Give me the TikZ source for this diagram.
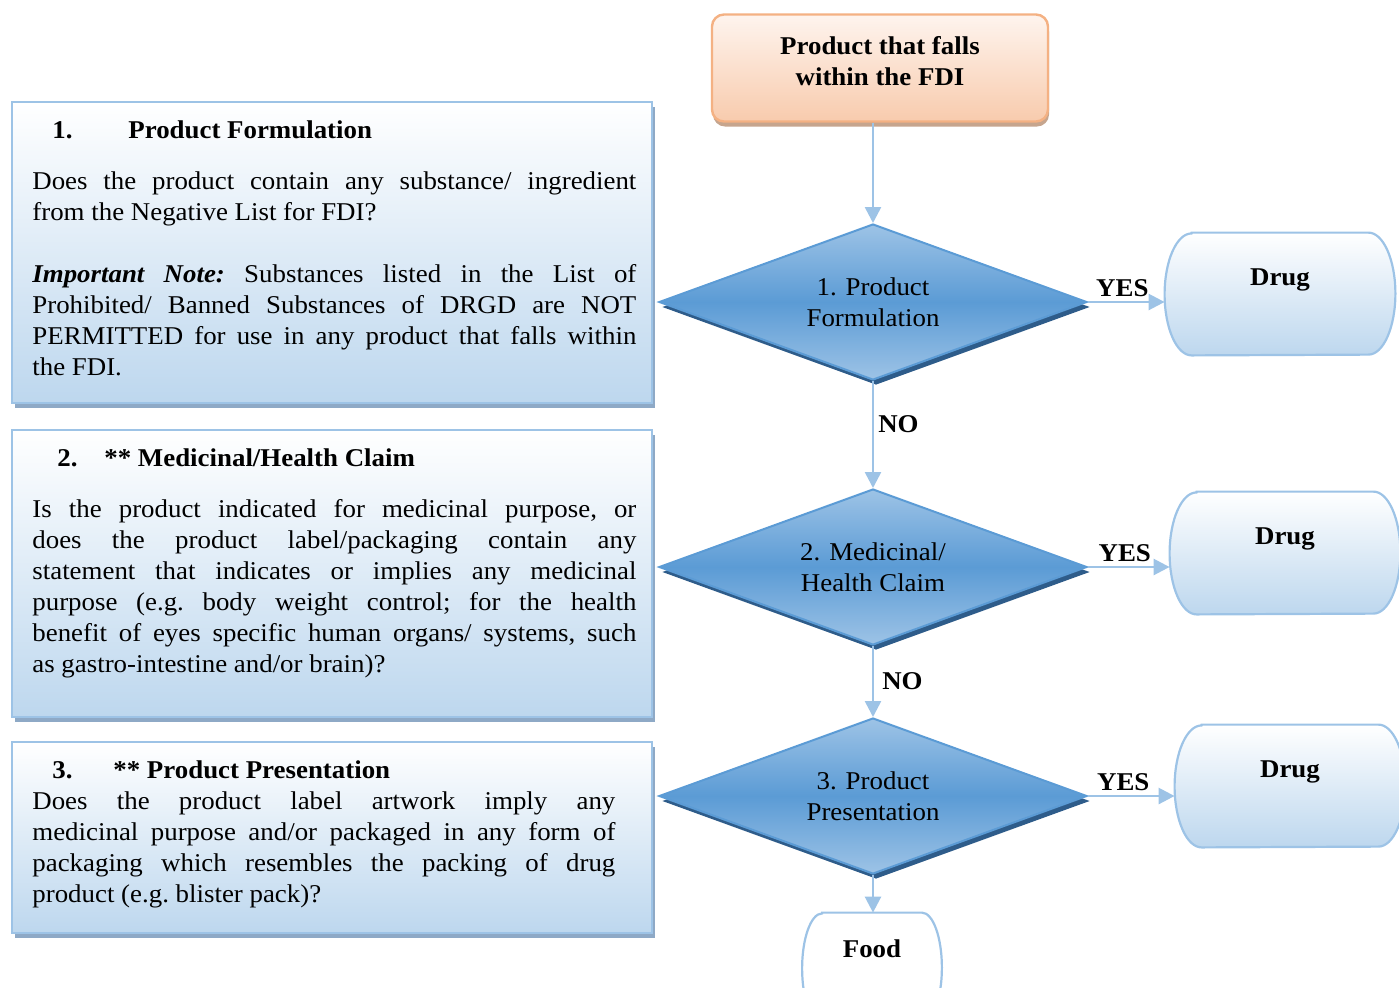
\documentclass[tikz,border=0pt]{standalone}
\usepackage{fontspec}
\setmainfont{Liberation Serif}[FakeStretch=1.05]
\usetikzlibrary{positioning, shapes.geometric, shadows, arrows.meta}

\definecolor{boxline}{HTML}{9DC3E6}
\definecolor{boxfill}{HTML}{BDD7EE}
\definecolor{boxshadow}{HTML}{8EA9C6}
\definecolor{dialight}{HTML}{9DC3E6}
\definecolor{diamid}{HTML}{5B9BD5}
\definecolor{diaedge}{HTML}{5B9BD5}
\definecolor{diashadow}{HTML}{2E5C8A}
\definecolor{startline}{HTML}{F4B183}
\definecolor{starttop}{HTML}{FEF4EE}
\definecolor{startfill}{HTML}{F8CBAD}
\definecolor{startshadow}{HTML}{C6A58E}
\definecolor{arrowblue}{HTML}{9DC3E6}

\newcommand\qfont{\fontsize{12.8}{15.5}\selectfont}

\tikzset{
  qbox/.style={draw=boxline, line width=1.1pt, top color=white, bottom color=boxfill,
    general shadow={fill=boxshadow, shadow xshift=1.5pt, shadow yshift=-2.5pt},
    minimum width=320pt, inner sep=0pt, anchor=north west},
  qtext/.style={anchor=north west, inner sep=0pt, text width=302pt, align=justify,
    font=\qfont,
    execute at begin node={\tolerance=9999\relax\hyphenpenalty=10000\relax\frenchspacing}},
  decision/.style={diamond, aspect=2.76, minimum width=214pt, minimum height=78pt,
    inner sep=0pt, draw=diaedge, line width=1pt, top color=dialight,
    bottom color=dialight, middle color=diamid, align=center,
    general shadow={fill=diashadow, shadow xshift=1.5pt, shadow yshift=-2.5pt}},
  startbox/.style={rectangle, rounded corners=6pt, draw=startline, line width=1.2pt,
    top color=starttop, bottom color=startfill, minimum width=168pt,
    minimum height=53.5pt,
    general shadow={fill=startshadow, shadow xshift=0.5pt, shadow yshift=-2.5pt}},
  termspot/.style={rectangle, inner sep=0pt, minimum width=115pt, minimum height=61pt},
  termshape/.style={draw=boxline, line width=1.1pt, top color=white, bottom color=boxfill},
  termlabel/.style={font=\qfont\bfseries, inner sep=0pt, align=center},
  flow/.style={draw=arrowblue, line width=1.3pt, -{Triangle[width=8pt,length=8pt]}},
  ans/.style={font=\qfont\bfseries, inner sep=2pt},
}

\begin{document}
\begin{tikzpicture}[x=0.5pt, y=-0.5pt, font=\qfont]
\useasboundingbox (0,0) rectangle (1399,987);

% question boxes on the left
\node[qbox, minimum height=150.5pt] (box1) at (11,101) {};
\node[qtext] (txt1) at (32,120) {%
  {\bfseries\hspace*{10pt}\makebox[38pt][l]{1.}Product Formulation}\par\vspace{10pt}
  Does the product contain any substance/ ingredient\linebreak
  from the Negative List for FDI?\par\vspace{15.5pt}
  \textbf{\textit{Important Note:}} Substances listed in the List of\linebreak
  Prohibited/ Banned Substances of DRGD are NOT\linebreak
  PERMITTED for use in any product that falls within\linebreak
  the FDI.};

\node[qbox, minimum height=143.5pt] (box2) at (11,429) {};
\node[qtext] (txt2) at (32,448) {%
  {\bfseries\hspace*{12.5pt}\makebox[23.5pt][l]{2.}** Medicinal/Health Claim}\par\vspace{10pt}
  Is the product indicated for medicinal purpose, or\linebreak
  does the product label/packaging contain any\linebreak
  statement that indicates or implies any medicinal\linebreak
  purpose (e.g. body weight control; for the health\linebreak
  benefit of eyes specific human organs/ systems, such\linebreak
  as gastro-intestine and/or brain)?};

\node[qbox, minimum height=95.5pt] (box3) at (11,741) {};
\node[qtext, text width=291.5pt] (txt3) at (32,760) {%
  {\bfseries\hspace*{10pt}\makebox[30.5pt][l]{3.}** Product Presentation}\par
  Does the product label artwork imply any\linebreak
  medicinal purpose and/or packaged in any form of\linebreak
  packaging which resembles the packing of drug\linebreak
  product (e.g. blister pack)?};

% flow chart on the right
\node[startbox] (start) at (880,68) {};
\node[termlabel] (starttext) at (880,61) {Product that falls\\within the FDI};
\node[decision] (d1) at (873,302) {1. Product\\Formulation};
\node[decision] (d2) at (873,567) {2. Medicinal/\\Health Claim};
\node[decision] (d3) at (873,796) {3. Product\\Presentation};

\foreach \n/\cx/\cy in {1/1280/294, 2/1285/553, 3/1290/786} {
  \node[termspot] (drug\n) at (\cx,\cy) {};
  \draw[termshape] ([xshift=13.5pt]drug\n.north west) -- ([xshift=-13.5pt]drug\n.north east)
    arc[start angle=90, end angle=-90, x radius=13.5pt, y radius=30.5pt]
    -- ([xshift=13.5pt]drug\n.south west)
    arc[start angle=270, end angle=90, x radius=13.5pt, y radius=30.5pt] -- cycle;
  \node[termlabel] (druglabel\n) at ([yshift=7pt]drug\n.center) {Drug};
}

\node[termspot, minimum width=69.5pt, minimum height=55pt] (food) at (872,968) {};
\draw[draw=boxline, line width=1.1pt, fill=white] ([xshift=10pt]food.north west)
  -- ([xshift=-10pt]food.north east)
  arc[start angle=90, end angle=-90, x radius=10pt, y radius=27.5pt]
  -- ([xshift=10pt]food.south west)
  arc[start angle=270, end angle=90, x radius=10pt, y radius=27.5pt] -- cycle;
\node[termlabel] (foodlabel) at ([yshift=9.5pt]food.center) {Food};

\draw[flow] (d1.north |- start.south) -- (d1.north);
\draw[flow] (d1.south) -- node[ans, right, pos=0.4] (no1) {NO} (d2.north);
\draw[flow] (d2.south) -- node[ans, right, xshift=2pt] (no2) {NO} (d3.north);
\draw[flow] (d3.south) -- (d3.south |- food.north);
\draw[flow] (d1.east) -- node[ans, above, xshift=-2pt] (yes1) {YES} (d1.east -| drug1.west);
\draw[flow] (d2.east) -- node[ans, above, xshift=-2pt] (yes2) {YES} (d2.east -| drug2.west);
\draw[flow] (d3.east) -- node[ans, above, xshift=-4pt] (yes3) {YES} (d3.east -| drug3.west);
\end{tikzpicture}
\end{document}
